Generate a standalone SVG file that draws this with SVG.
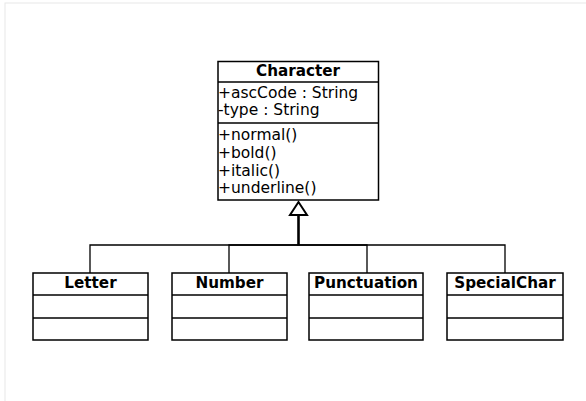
<svg xmlns="http://www.w3.org/2000/svg" width="586" height="401" viewBox="0 0 586 401">
<style>
.box{fill:#fff;stroke:#000;stroke-width:1.5}
.div{stroke:#000;stroke-width:1.5}
.t{font-family:"DejaVu Sans",sans-serif;font-size:15.5px;fill:#000}
.b{font-family:"DejaVu Sans",sans-serif;font-size:15.2px;font-weight:bold;fill:#000;text-anchor:middle}
.c{fill:none;stroke:#000;stroke-width:1.3}
</style>
<rect x="0" y="0" width="586" height="401" fill="#fff"/>
<rect x="5" y="3" width="600" height="420" fill="none" stroke="#e8e8e8" stroke-width="1"/>
<g id="connectors">
<path class="c" d="M90 273 V245 H298"/>
<path class="c" d="M229 273 V245 H298"/>
<path class="c" d="M367 273 V245 H298"/>
<path class="c" d="M505 273 V245 H298"/>
<path d="M298.5 245.5 V215" stroke="#000" stroke-width="2.6" fill="none"/>
<polygon points="298.5,202 290,215 307,215" fill="#fff" stroke="#000" stroke-width="2"/>
</g>
<g id="Character">
<rect class="box" x="218" y="61.5" width="160.5" height="138.5"/>
<line class="div" x1="218" y1="82" x2="378.5" y2="82"/>
<line class="div" x1="218" y1="123" x2="378.5" y2="123"/>
<text class="b" x="298" y="76">Character</text>
<text class="t" x="218" y="98">+ascCode : String</text>
<text class="t" x="218" y="115">-type : String</text>
<text class="t" x="218" y="140">+normal()</text>
<text class="t" x="218" y="158">+bold()</text>
<text class="t" x="218" y="176">+italic()</text>
<text class="t" x="218" y="193">+underline()</text>
</g>
<g id="Letter">
<rect class="box" x="33" y="273" width="115" height="67"/>
<line class="div" x1="33" y1="295" x2="148" y2="295"/>
<line class="div" x1="33" y1="318" x2="148" y2="318"/>
<text class="b" x="90.5" y="288">Letter</text>
</g>
<g id="Number">
<rect class="box" x="172" y="273" width="115" height="67"/>
<line class="div" x1="172" y1="295" x2="287" y2="295"/>
<line class="div" x1="172" y1="318" x2="287" y2="318"/>
<text class="b" x="229.5" y="288">Number</text>
</g>
<g id="Punctuation">
<rect class="box" x="309" y="273" width="114" height="67"/>
<line class="div" x1="309" y1="295" x2="423" y2="295"/>
<line class="div" x1="309" y1="318" x2="423" y2="318"/>
<text class="b" x="366" y="288">Punctuation</text>
</g>
<g id="SpecialChar">
<rect class="box" x="447" y="273" width="116" height="67"/>
<line class="div" x1="447" y1="295" x2="563" y2="295"/>
<line class="div" x1="447" y1="318" x2="563" y2="318"/>
<text class="b" x="505" y="288">SpecialChar</text>
</g>
</svg>
